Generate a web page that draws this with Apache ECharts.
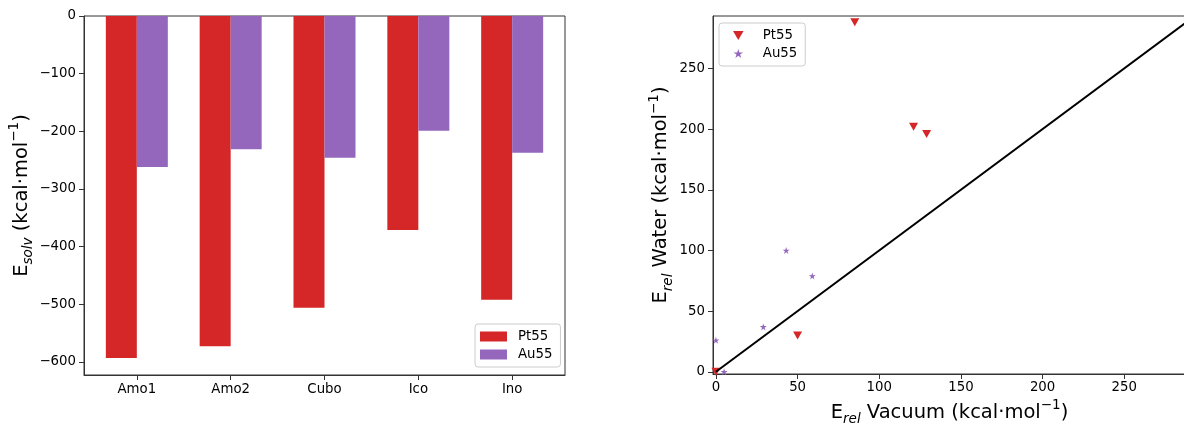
<!DOCTYPE html>
<html lang="en">
<head>
  <meta charset="UTF-8">
  <title>Esolv and Erel</title>
  <style>
    html, body { margin: 0; padding: 0; background: #fff; }
    #main { width: 1184px; height: 424px; }
  </style>
</head>
<body>
  <div id="main"></div>
</body>
<script src="https://cdn.jsdelivr.net/npm/echarts@6/dist/echarts.min.js"></script>
<script>
  // bar chart (solvation energies)
  var structures = ['Amo1', 'Amo2', 'Cubo', 'Ico', 'Ino'];
  var ptSolv = [-593, -573, -506, -371, -492];
  var auSolv = [-262, -231, -246, -199, -237];
  var solvTicks = [-600, -500, -400, -300, -200, -100, 0];

  // scatter (relative energies, vacuum vs water)
  var ptVacuum = [0, 50, 85, 121, 129];
  var ptWater = [0, 30, 288, 202, 196];
  var auVacuum = [0, 5, 29, 43, 59];
  var auWater = [26, 0, 37, 100, 79];
  var relTicks = [0, 50, 100, 150, 200, 250];
  var diagonal = [0, 300]; // y = x reference line

  var red = '#d62728';
  var purple = '#9467bd';
  var axisColor = '#333';
  var font = 'DejaVu Sans';

  var triDown = 'path://M0,0 L20,0 L10,17 Z';
  var star = 'path://M10,0 L12.23,6.93 L19.51,6.91 L13.61,11.17 L15.88,18.09 L10,13.8 L4.12,18.09 L6.39,11.17 L0.49,6.91 L7.77,6.93 Z';

  function pairs(xs, ys) {
    return xs.map(function (x, i) { return [x, ys[i]]; });
  }
  function minus(v) {
    return String(v).replace('-', '\u2212');
  }

  var nameRich = {
    sub: { fontSize: 13.5, fontStyle: 'italic', fontFamily: font, verticalAlign: 'bottom', lineHeight: 15, color: '#000' },
    sup: { fontSize: 13.5, fontFamily: font, verticalAlign: 'top', lineHeight: 15, color: '#000' }
  };
  var nameStyle = { fontSize: 19.5, fontFamily: font, color: '#000', lineHeight: 28, rich: nameRich };

  var tickLabel = { fontSize: 13.3, fontFamily: font, color: '#000' };
  var axisLine = { show: true, onZero: false, lineStyle: { color: axisColor, width: 1 } };

  var chart = echarts.init(document.getElementById('main'));
  var option = {
    animation: false,
    textStyle: { fontFamily: font },
    grid: [
      { left: 84, right: 619, top: 16, bottom: 49, show: true, borderColor: axisColor, borderWidth: 1, outerBoundsMode: 'none' },
      { left: 713, right: -2, top: 16, bottom: 50, show: true, borderColor: axisColor, borderWidth: 1, outerBoundsMode: 'none' }
    ],
    legend: [
      {
        left: 475, top: 324, orient: 'vertical',
        itemWidth: 27, itemHeight: 10, itemGap: 5,
        padding: [6, 8, 6, 5],
        borderColor: '#ccc', borderWidth: 1, borderRadius: 3,
        backgroundColor: 'rgba(255,255,255,0.8)',
        textStyle: { fontSize: 13.3, fontFamily: font, color: '#000', padding: [0, 0, 0, 6] },
        data: [{ name: 'Pt55', icon: 'rect' }, { name: 'Au55', icon: 'rect' }]
      },
      {
        left: 719, top: 23, orient: 'vertical',
        itemWidth: 27, itemHeight: 9, itemGap: 5,
        padding: [6, 8, 6, 14],
        borderColor: '#ccc', borderWidth: 1, borderRadius: 3,
        backgroundColor: 'rgba(255,255,255,0.8)',
        textStyle: { fontSize: 13.3, fontFamily: font, color: '#000', padding: [0, 0, 0, 6] },
        data: [{ name: 'Pt55 ', icon: triDown }, { name: 'Au55 ', icon: star }],
        formatter: function (n) { return n.trim(); }
      }
    ],
    xAxis: [
      {
        gridIndex: 0, type: 'value', min: -0.563, max: 4.563,
        axisLine: axisLine,
        axisTick: { show: true, length: 5, customValues: [0, 1, 2, 3, 4], lineStyle: { color: axisColor } },
        axisLabel: Object.assign({ margin: 8, customValues: [0, 1, 2, 3, 4], formatter: function (v) { return structures[v]; } }, tickLabel),
        splitLine: { show: false }
      },
      {
        gridIndex: 1, type: 'value', min: -1.8, max: 287.8,
        axisLine: axisLine,
        axisTick: { show: true, length: 5, customValues: relTicks, lineStyle: { color: axisColor } },
        axisLabel: Object.assign({ margin: 7, customValues: relTicks }, tickLabel),
        splitLine: { show: false },
        name: 'E{sub|rel} Vacuum (kcal\u00b7mol{sup|\u22121})',
        nameLocation: 'middle', nameGap: 23, nameTextStyle: nameStyle
      }
    ],
    yAxis: [
      {
        gridIndex: 0, type: 'value', min: -622.65, max: 0,
        axisLine: axisLine,
        axisTick: { show: true, length: 5, customValues: solvTicks, lineStyle: { color: axisColor } },
        axisLabel: Object.assign({ margin: 8, customValues: solvTicks, formatter: minus }, tickLabel),
        splitLine: { show: false },
        name: 'E{sub|solv} (kcal\u00b7mol{sup|\u22121})',
        nameLocation: 'middle', nameRotate: 90, nameGap: 48, nameTextStyle: nameStyle
      },
      {
        gridIndex: 1, type: 'value', min: -1.8, max: 293.2,
        axisLine: axisLine,
        axisTick: { show: true, length: 5, customValues: relTicks, lineStyle: { color: axisColor } },
        axisLabel: Object.assign({ margin: 8, customValues: relTicks }, tickLabel),
        splitLine: { show: false },
        name: 'E{sub|rel} Water (kcal\u00b7mol{sup|\u22121})',
        nameLocation: 'middle', nameRotate: 90, nameGap: 38, nameTextStyle: nameStyle
      }
    ],
    series: [
      {
        name: 'Pt55', type: 'bar', xAxisIndex: 0, yAxisIndex: 0,
        barWidth: 31, barGap: 0,
        itemStyle: { color: red },
        data: pairs([0, 1, 2, 3, 4], ptSolv)
      },
      {
        name: 'Au55', type: 'bar', xAxisIndex: 0, yAxisIndex: 0,
        barWidth: 31, barGap: 0,
        itemStyle: { color: purple },
        data: pairs([0, 1, 2, 3, 4], auSolv)
      },
      {
        name: 'diag', type: 'line', xAxisIndex: 1, yAxisIndex: 1,
        symbol: 'none', silent: true, clip: true, z: 3,
        lineStyle: { color: '#000', width: 2 },
        data: pairs(diagonal, diagonal)
      },
      {
        name: 'Pt55 ', type: 'scatter', xAxisIndex: 1, yAxisIndex: 1,
        symbol: triDown, symbolSize: [9, 8],
        itemStyle: { color: red, opacity: 1 },
        data: pairs(ptVacuum, ptWater), z: 2
      },
      {
        name: 'Au55 ', type: 'scatter', xAxisIndex: 1, yAxisIndex: 1,
        symbol: star, symbolSize: 7,
        itemStyle: { color: purple, opacity: 1 },
        data: pairs(auVacuum, auWater), z: 2
      }
    ]
  };
  chart.setOption(option);
</script>
</html>
